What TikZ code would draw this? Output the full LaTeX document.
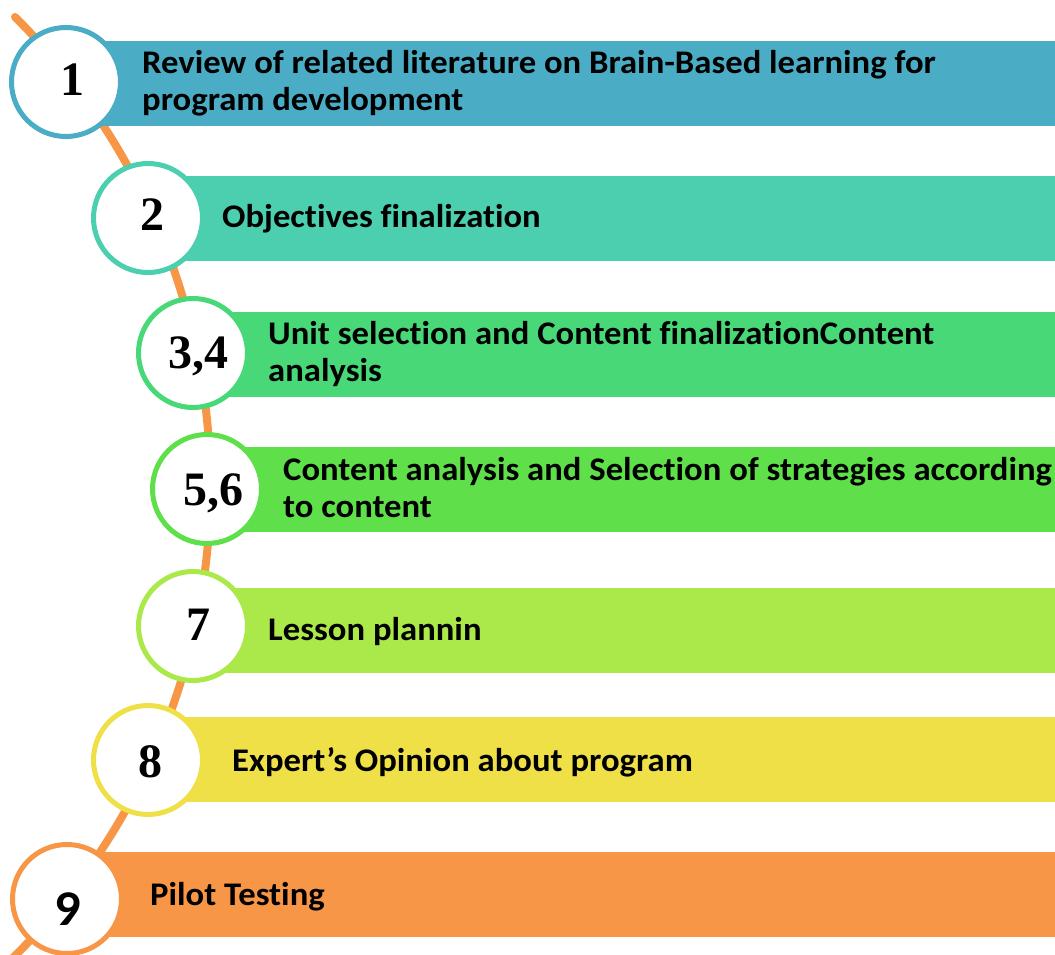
\documentclass[tikz,border=0pt]{standalone}
\usepackage{fontspec}
\newfontfamily\barfont[FakeStretch=1.05, Ligatures=NoCommon]{Carlito}
\newfontfamily\numfont{Liberation Serif}
\usetikzlibrary{positioning}
\definecolor{stepA}{RGB}{75,172,198}
\definecolor{stepB}{RGB}{75,207,175}
\definecolor{stepC}{RGB}{72,216,120}
\definecolor{stepD}{RGB}{95,224,74}
\definecolor{stepE}{RGB}{171,232,74}
\definecolor{stepF}{RGB}{239,224,71}
\definecolor{stepG}{RGB}{247,150,70}
\begin{document}
\begin{tikzpicture}[x=1pt,y=-1pt]
		\tikzstyle{main}=[circle, minimum size = 109pt, line width = 5pt, fill = white, inner sep = 0pt]
		\tikzstyle{bar}=[rectangle, minimum height = 85pt, minimum width = 1000pt, inner sep = 0pt, anchor = west]
		\tikzstyle{txt}=[anchor = west, align = left, inner sep = 0pt, font = \barfont\bfseries\fontsize{33}{37}\selectfont]
		\tikzstyle{num}=[inner sep = 0pt, font = \numfont\bfseries\fontsize{48}{48}\selectfont]
		\tikzstyle{connect}=[line width = 8pt, draw = stepG, line cap = round]
		\useasboundingbox (0,0) rectangle (1055,955);
		\clip (0,0) rectangle (1055,955);
		
		\draw[connect] (15,17) arc[start angle = -45.2, end angle = 50, radius = 661.5];
		
		\node[bar, fill = stepA] (b1) at (66,83.5)  {};
		\node[bar, fill = stepB] (b2) at (148,218)  {};
		\node[bar, fill = stepC] (b3) at (193,354)  {};
		\node[bar, fill = stepD] (b4) at (207,489)  {};
		\node[bar, fill = stepE] (b5) at (193,630)  {};
		\node[bar, fill = stepF] (b6) at (148,759.5) {};
		\node[bar, fill = stepG] (b7) at (67,894.5) {};
		
		\node[main, draw = stepA] (c1) at (66,82)  {};
		\node[main, draw = stepB] (c2) at (148,218) {};
		\node[main, draw = stepC] (c3) at (193,353) {};
		\node[main, draw = stepD] (c4) at (207,489) {};
		\node[main, draw = stepE] (c5) at (193,626) {};
		\node[main, draw = stepF] (c6) at (148,760) {};
		\node[main, draw = stepG] (c7) at (67,899)  {};
		
		\node[num] (n1) at (72,80)  {1};
		\node[num] (n2) at (152,215) {2};
		\node[num] (n3) at (198,356) {3,4};
		\node[num] (n4) at (213,493) {5,6};
		\node[num] (n5) at (198,625) {7};
		\node[num] (n6) at (150,762) {8};
		\node[num, font = \barfont\bfseries\fontsize{50}{50}\selectfont] (n7) at (68,909) {9};
		
		\node[txt] (t1) at (142,83)  {Review of related literature on Brain-Based learning for\\program development};
		\node[txt] (t2) at (222,219) {Objectives finalization};
		\node[txt] (t3) at (268,354) {Unit selection and Content finalizationContent\\analysis};
		\node[txt] (t4) at (283,488) {Content analysis and Selection of strategies according\\to content};
		\node[txt] (t5) at (268,632) {Lesson plannin};
		\node[txt] (t6) at (232,762) {Expert’s Opinion about program};
		\node[txt] (t7) at (150,897) {Pilot Testing};
		
\end{tikzpicture}
\end{document}
